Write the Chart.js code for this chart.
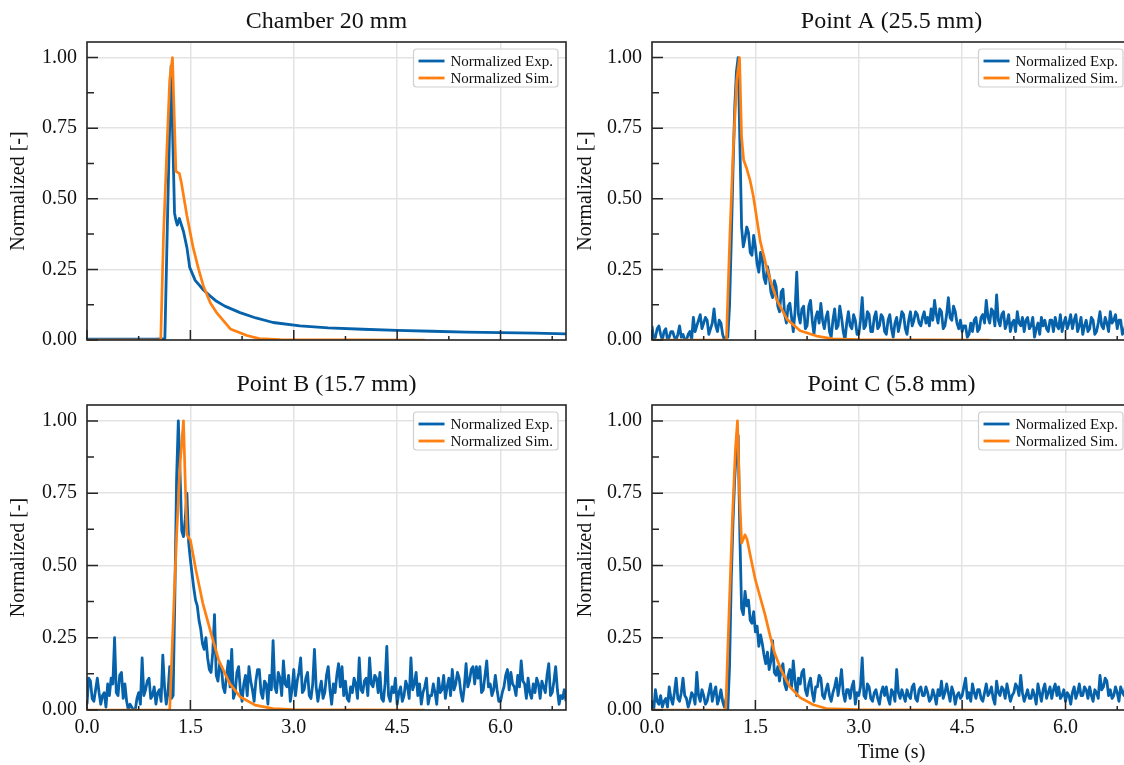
<!DOCTYPE html>
<html><head><meta charset="utf-8">
<script src="https://cdn.jsdelivr.net/npm/chart.js@4.4.1/dist/chart.umd.min.js"></script>
<style>
html,body{margin:0;padding:0;background:#fff;width:1124px;height:765px;overflow:hidden;}
#wrap{position:relative;width:1124px;height:765px;overflow:hidden;background:#fff;}
canvas{position:absolute;}
</style></head><body><div id="wrap">
<canvas id="c0" width="570" height="362" style="left:0px;top:0px"></canvas>
<canvas id="c1" width="564" height="362" style="left:567px;top:0px"></canvas>
<canvas id="c2" width="570" height="403" style="left:0px;top:362px"></canvas>
<canvas id="c3" width="564" height="403" style="left:567px;top:362px"></canvas>
</div>
<script>
// ---------------- DATA ----------------
const panelTitles = ['Chamber 20 mm', 'Point A (25.5 mm)', 'Point B (15.7 mm)', 'Point C (5.8 mm)'];
const legendLabels = ['Normalized Exp.', 'Normalized Sim.'];
const xMajorTicks = [0, 1.5, 3.0, 4.5, 6.0];
const xTickLabels = ['0.0', '1.5', '3.0', '4.5', '6.0'];
const xMinorTicks = [0.75, 2.25, 3.75, 5.25, 6.75];
const yMajorTicks = [0, 0.25, 0.5, 0.75, 1.0];
const yTickLabels = ['0.00', '0.25', '0.50', '0.75', '1.00'];
const yMinorTicks = [0.125, 0.375, 0.625, 0.875];
const yAxisTitle = 'Normalized [-]';
const xAxisTitle = 'Time (s)';

// Chamber 20 mm
const chamberExpT = [0,0.5,1.0,1.13,1.17,1.22,1.23,1.27,1.29,1.31,1.34,1.40,1.45,1.49,1.57,1.69,1.78,1.88,2.0,2.22,2.45,2.70,3.09,3.5,4.0,4.5,5.0,5.5,6.0,6.5,6.95];
const chamberExpV = [0.003,0.003,0.003,0.005,0.45,0.97,0.97,0.45,0.424,0.407,0.43,0.384,0.327,0.257,0.211,0.177,0.157,0.137,0.12,0.097,0.078,0.062,0.05,0.043,0.038,0.034,0.031,0.028,0.026,0.024,0.022];
const chamberSimT = [0,1.07,1.11,1.16,1.20,1.24,1.29,1.34,1.37,1.45,1.54,1.62,1.69,1.79,1.88,2.08,2.32,2.5,2.8,4.9];
const chamberSimV = [0,0,0.37,0.68,0.92,1.0,0.597,0.59,0.556,0.44,0.327,0.25,0.19,0.131,0.097,0.039,0.016,0.005,0.001,0];

// shared sample times of the noisy experimental signals (s)
const tExp = [
0.000,0.025,0.050,0.075,0.100,0.125,0.150,0.175,0.200,0.225,0.250,0.275,0.300,0.325,0.350,0.375,0.400,0.425,0.450,0.475,
0.500,0.525,0.550,0.575,0.600,0.625,0.650,0.675,0.700,0.725,0.750,0.775,0.800,0.825,0.850,0.875,0.900,0.925,0.950,0.975,
1.000,1.025,1.050,1.075,1.100,1.125,1.150,1.175,1.200,1.225,1.250,1.275,1.300,1.325,1.350,1.375,1.400,1.425,1.450,1.475,
1.500,1.525,1.550,1.575,1.600,1.625,1.650,1.675,1.700,1.725,1.750,1.775,1.800,1.825,1.850,1.875,1.900,1.925,1.950,1.975,
2.000,2.025,2.050,2.075,2.100,2.125,2.150,2.175,2.200,2.225,2.250,2.275,2.300,2.325,2.350,2.375,2.400,2.425,2.450,2.475,
2.500,2.525,2.550,2.575,2.600,2.625,2.650,2.675,2.700,2.725,2.750,2.775,2.800,2.825,2.850,2.875,2.900,2.925,2.950,2.975,
3.000,3.025,3.050,3.075,3.100,3.125,3.150,3.175,3.200,3.225,3.250,3.275,3.300,3.325,3.350,3.375,3.400,3.425,3.450,3.475,
3.500,3.525,3.550,3.575,3.600,3.625,3.650,3.675,3.700,3.725,3.750,3.775,3.800,3.825,3.850,3.875,3.900,3.925,3.950,3.975,
4.000,4.025,4.050,4.075,4.100,4.125,4.150,4.175,4.200,4.225,4.250,4.275,4.300,4.325,4.350,4.375,4.400,4.425,4.450,4.475,
4.500,4.525,4.550,4.575,4.600,4.625,4.650,4.675,4.700,4.725,4.750,4.775,4.800,4.825,4.850,4.875,4.900,4.925,4.950,4.975,
5.000,5.025,5.050,5.075,5.100,5.125,5.150,5.175,5.200,5.225,5.250,5.275,5.300,5.325,5.350,5.375,5.400,5.425,5.450,5.475,
5.500,5.525,5.550,5.575,5.600,5.625,5.650,5.675,5.700,5.725,5.750,5.775,5.800,5.825,5.850,5.875,5.900,5.925,5.950,5.975,
6.000,6.025,6.050,6.075,6.100,6.125,6.150,6.175,6.200,6.225,6.250,6.275,6.300,6.325,6.350,6.375,6.400,6.425,6.450,6.475,
6.500,6.525,6.550,6.575,6.600,6.625,6.650,6.675,6.700,6.725,6.750,6.775,6.800,6.825,6.850,6.875,6.900,6.925,6.950,6.975];

// Point A (25.5 mm)
const pointAExp = [
0.05,0.00,0.01,0.04,0.05,0.02,0.00,0.03,0.04,0.00,0.01,0.03,0.03,0.01,0.00,0.02,0.05,0.01,0.02,0.00,
0.00,0.02,0.03,0.00,0.08,0.03,0.05,0.07,0.09,0.04,0.06,0.08,0.07,0.02,0.04,0.06,0.11,0.05,0.03,0.07,
0.06,0.02,0.00,0.01,0.01,0.12,0.35,0.60,0.82,0.95,1.00,0.70,0.40,0.33,0.36,0.40,0.38,0.31,0.30,0.37,
0.33,0.27,0.24,0.31,0.29,0.22,0.20,0.26,0.23,0.17,0.15,0.21,0.19,0.12,0.10,0.17,0.18,0.09,0.06,0.12,
0.13,0.08,0.03,0.10,0.24,0.09,0.06,0.11,0.12,0.04,0.05,0.12,0.14,0.07,0.02,0.08,0.10,0.06,0.13,0.07,
0.04,0.08,0.10,0.03,0.01,0.07,0.11,0.04,0.05,0.12,0.08,0.03,0.00,0.06,0.10,0.05,0.04,0.09,0.07,0.02,
0.02,0.07,0.15,0.04,0.05,0.10,0.09,0.03,0.03,0.08,0.10,0.04,0.05,0.09,0.08,0.03,0.02,0.07,0.09,0.04,
0.01,0.06,0.08,0.03,0.06,0.10,0.09,0.04,0.02,0.07,0.10,0.05,0.07,0.10,0.09,0.06,0.05,0.08,0.10,0.06,
0.08,0.05,0.11,0.07,0.14,0.09,0.06,0.11,0.10,0.04,0.05,0.09,0.15,0.08,0.07,0.12,0.10,0.06,0.04,0.07,
0.03,0.05,0.05,0.01,0.02,0.06,0.03,0.07,0.08,0.03,0.04,0.08,0.09,0.06,0.14,0.08,0.06,0.11,0.10,0.05,
0.16,0.07,0.05,0.09,0.10,0.04,0.06,0.09,0.03,0.06,0.07,0.03,0.10,0.06,0.05,0.08,0.03,0.07,0.08,0.04,
0.05,0.08,0.01,0.04,0.06,0.02,0.08,0.05,0.07,0.04,0.03,0.07,0.07,0.03,0.08,0.05,0.04,0.09,0.03,0.06,
0.08,0.04,0.06,0.09,0.04,0.07,0.09,0.03,0.05,0.08,0.02,0.05,0.07,0.03,0.04,0.08,0.07,0.02,0.03,0.06,
0.10,0.05,0.04,0.08,0.06,0.03,0.10,0.06,0.07,0.09,0.04,0.07,0.07,0.02,0.03,0.06,0.06,0.04,0.05,0.08];
const pointASimT = [0,1.08,1.13,1.18,1.23,1.27,1.30,1.33,1.37,1.42,1.47,1.52,1.57,1.66,1.74,1.81,1.96,2.15,2.39,2.63,3.0,4.9];
const pointASimV = [0,0,0.37,0.68,0.92,1.0,0.717,0.637,0.61,0.568,0.51,0.43,0.35,0.26,0.194,0.142,0.073,0.033,0.014,0.004,0.001,0];

// Point B (15.7 mm)
const pointBExp = [
0.02,0.11,0.10,0.04,0.03,0.07,0.11,0.06,0.02,0.05,0.06,0.01,0.09,0.05,0.11,0.09,0.25,0.06,0.05,0.12,
0.13,0.04,0.09,0.03,0.00,0.02,0.01,0.00,0.00,0.04,0.06,0.02,0.18,0.05,0.07,0.10,0.11,0.04,0.05,0.08,
0.02,0.06,0.07,0.03,0.19,0.08,0.02,0.06,0.15,0.04,0.05,0.40,0.80,1.00,0.82,0.62,0.60,0.66,0.75,0.58,
0.52,0.47,0.42,0.38,0.36,0.31,0.28,0.23,0.21,0.25,0.18,0.14,0.13,0.20,0.33,0.12,0.10,0.16,0.15,0.08,
0.06,0.12,0.17,0.08,0.21,0.04,0.06,0.13,0.15,0.07,0.03,0.09,0.12,0.05,0.15,0.10,0.07,0.03,0.10,0.14,
0.14,0.06,0.04,0.10,0.09,0.02,0.12,0.07,0.24,0.08,0.06,0.13,0.11,0.05,0.17,0.09,0.08,0.12,0.03,0.07,
0.14,0.05,0.10,0.13,0.18,0.06,0.07,0.11,0.13,0.05,0.04,0.09,0.21,0.08,0.03,0.07,0.10,0.04,0.06,0.12,
0.15,0.07,0.02,0.09,0.06,0.12,0.16,0.08,0.15,0.05,0.10,0.04,0.03,0.08,0.06,0.11,0.09,0.04,0.18,0.07,
0.06,0.10,0.11,0.05,0.18,0.09,0.08,0.12,0.11,0.06,0.13,0.04,0.03,0.09,0.22,0.05,0.03,0.08,0.06,0.11,
0.02,0.06,0.08,0.03,0.05,0.10,0.08,0.04,0.18,0.07,0.09,0.13,0.05,0.09,0.02,0.06,0.08,0.11,0.02,0.05,
0.05,0.09,0.06,0.02,0.11,0.06,0.07,0.12,0.04,0.08,0.11,0.05,0.14,0.07,0.09,0.13,0.11,0.06,0.03,0.08,
0.16,0.08,0.10,0.14,0.15,0.09,0.15,0.11,0.15,0.06,0.07,0.12,0.17,0.08,0.09,0.05,0.07,0.12,0.07,0.03,
0.03,0.06,0.08,0.12,0.14,0.07,0.13,0.09,0.08,0.05,0.12,0.08,0.17,0.10,0.09,0.04,0.11,0.06,0.04,0.09,
0.06,0.11,0.09,0.04,0.10,0.08,0.06,0.12,0.16,0.05,0.06,0.10,0.15,0.07,0.02,0.05,0.04,0.07,0.03,0.06];
const pointBSimT = [0,1.20,1.25,1.30,1.35,1.40,1.43,1.45,1.50,1.58,1.68,1.80,1.91,2.07,2.22,2.44,2.7,3.0,4.9];
const pointBSimV = [0,0,0.3,0.6,0.85,1.0,0.75,0.605,0.588,0.484,0.37,0.265,0.173,0.092,0.046,0.017,0.005,0.001,0];

// Point C (5.8 mm)
const pointCExp = [
0.03,0.00,0.07,0.03,0.02,0.05,0.01,0.03,0.04,0.01,0.08,0.04,0.02,0.06,0.11,0.04,0.03,0.06,0.11,0.05,
0.04,0.01,0.03,0.06,0.05,0.02,0.13,0.05,0.03,0.07,0.05,0.02,0.03,0.06,0.09,0.03,0.06,0.08,0.02,0.04,
0.07,0.03,0.01,0.04,0.00,0.15,0.45,0.65,0.80,0.90,0.95,0.60,0.35,0.33,0.41,0.36,0.38,0.31,0.30,0.34,
0.27,0.29,0.22,0.26,0.23,0.19,0.16,0.20,0.14,0.17,0.24,0.13,0.12,0.15,0.10,0.14,0.16,0.09,0.07,0.12,
0.14,0.08,0.17,0.10,0.05,0.11,0.09,0.13,0.14,0.07,0.05,0.09,0.11,0.06,0.03,0.08,0.08,0.12,0.11,0.05,
0.04,0.07,0.09,0.05,0.03,0.06,0.08,0.11,0.05,0.09,0.14,0.06,0.03,0.07,0.07,0.04,0.08,0.10,0.02,0.06,
0.05,0.08,0.18,0.05,0.04,0.09,0.08,0.04,0.03,0.06,0.07,0.04,0.02,0.06,0.08,0.05,0.08,0.04,0.02,0.07,
0.06,0.03,0.14,0.06,0.04,0.07,0.05,0.03,0.07,0.05,0.04,0.08,0.09,0.04,0.03,0.07,0.08,0.05,0.05,0.08,
0.06,0.03,0.04,0.07,0.05,0.02,0.07,0.05,0.10,0.04,0.06,0.09,0.06,0.03,0.08,0.06,0.02,0.05,0.06,0.04,
0.05,0.08,0.11,0.04,0.06,0.03,0.09,0.06,0.04,0.07,0.07,0.04,0.03,0.06,0.09,0.05,0.06,0.08,0.04,0.02,
0.10,0.06,0.05,0.08,0.07,0.04,0.09,0.06,0.03,0.05,0.06,0.09,0.08,0.05,0.12,0.06,0.03,0.05,0.07,0.04,
0.04,0.07,0.05,0.02,0.09,0.06,0.03,0.07,0.09,0.04,0.06,0.08,0.04,0.07,0.09,0.05,0.08,0.04,0.05,0.07,
0.03,0.06,0.05,0.02,0.06,0.08,0.04,0.06,0.09,0.05,0.05,0.08,0.07,0.04,0.08,0.05,0.03,0.07,0.06,0.04,
0.12,0.07,0.08,0.11,0.10,0.05,0.07,0.04,0.05,0.08,0.06,0.03,0.08,0.06,0.05,0.09,0.07,0.04,0.04,0.06];
const pointCSimT = [0,1.07,1.12,1.17,1.21,1.24,1.27,1.30,1.35,1.38,1.43,1.50,1.57,1.64,1.71,1.78,1.88,2.0,2.15,2.34,2.53,3.0,4.9];
const pointCSimV = [0,0,0.35,0.68,0.9,1.0,0.75,0.577,0.606,0.59,0.53,0.45,0.39,0.33,0.26,0.196,0.135,0.08,0.043,0.018,0.005,0.001,0];

// ---------------- STYLE ----------------
const BLUE = '#0562ab';
const ORANGE = '#ff8010';
const FONT = '"Liberation Serif", "Times New Roman", serif';
const TEXT = '#111111';
const AXIS = '#262626';
const GRID = '#e3e3e3';
const X_MAX = 6.95;
const Y_MAX = 1.055;

function pairs(ts, vs) { return vs.map((v, i) => ({x: ts[i], y: v})); }

const framePlugin = {
  id: 'frameTicksLegend',
  afterDraw(chart, args, opts) {
    const ctx = chart.ctx, a = chart.chartArea, xs = chart.scales.x, ys = chart.scales.y;
    ctx.save();
    ctx.strokeStyle = AXIS; ctx.lineWidth = 1.6;
    ctx.strokeRect(a.left, a.top, a.right - a.left, a.bottom - a.top);
    ctx.lineWidth = 1.5;
    ctx.beginPath();
    xMajorTicks.forEach(v => { const p = xs.getPixelForValue(v); ctx.moveTo(p, a.bottom); ctx.lineTo(p, a.bottom - 10); });
    xMinorTicks.forEach(v => { const p = xs.getPixelForValue(v); ctx.moveTo(p, a.bottom); ctx.lineTo(p, a.bottom - 4); });
    yMajorTicks.forEach(v => { const p = ys.getPixelForValue(v); ctx.moveTo(a.left, p); ctx.lineTo(a.left + 11, p); });
    yMinorTicks.forEach(v => { const p = ys.getPixelForValue(v); ctx.moveTo(a.left, p); ctx.lineTo(a.left + 7, p); });
    ctx.stroke();
    ctx.fillStyle = TEXT;
    ctx.font = '24px ' + FONT;
    ctx.textAlign = 'center'; ctx.textBaseline = 'middle';
    ctx.fillText(opts.title, (a.left + a.right) / 2, a.top - 20);
    ctx.font = '15px ' + FONT;
    const ds = chart.data.datasets;
    const tw = Math.max(...ds.map(d => ctx.measureText(d.label).width));
    const pad = 5, handle = 26, gap = 6, rowH = 17;
    const w = pad + handle + gap + tw + pad, h = 38;
    const bx = a.right - 8 - w, by = a.top + 7;
    ctx.beginPath();
    if (ctx.roundRect) ctx.roundRect(bx, by, w, h, 3); else ctx.rect(bx, by, w, h);
    ctx.fillStyle = 'rgba(255,255,255,0.85)'; ctx.fill();
    ctx.strokeStyle = '#cfcfcf'; ctx.lineWidth = 1.2; ctx.stroke();
    ds.forEach((d, i) => {
      const cy = by + 12 + i * rowH;
      ctx.beginPath(); ctx.strokeStyle = d.borderColor; ctx.lineWidth = 2.8;
      ctx.moveTo(bx + pad, cy); ctx.lineTo(bx + pad + handle, cy); ctx.stroke();
      ctx.fillStyle = TEXT; ctx.textAlign = 'left'; ctx.textBaseline = 'middle';
      ctx.fillText(d.label, bx + pad + handle + gap, cy + 1);
    });
    ctx.restore();
  }
};

const panels = [
  {id: 'c0', title: panelTitles[0], expT: chamberExpT, expV: chamberExpV, simT: chamberSimT, simV: chamberSimV, xLabels: false, xTitle: false, yW: 87, xH: 14, pad: {top: 42, right: 4, left: 0, bottom: 0}},
  {id: 'c1', title: panelTitles[1], expT: tExp, expV: pointAExp, simT: pointASimT, simV: pointASimV, xLabels: false, xTitle: false, yW: 85, xH: 14, pad: {top: 42, right: 0, left: 0, bottom: 0}},
  {id: 'c2', title: panelTitles[2], expT: tExp, expV: pointBExp, simT: pointBSimT, simV: pointBSimV, xLabels: true, xTitle: false, yW: 87, xH: 55, pad: {top: 43, right: 4, left: 0, bottom: 0}},
  {id: 'c3', title: panelTitles[3], expT: tExp, expV: pointCExp, simT: pointCSimT, simV: pointCSimV, xLabels: true, xTitle: true, yW: 85, xH: 55, pad: {top: 43, right: 0, left: 0, bottom: 0}}
];

panels.forEach(p => {
  new Chart(document.getElementById(p.id), {
    type: 'line',
    data: {
      datasets: [
        {label: legendLabels[0], data: pairs(p.expT, p.expV), borderColor: BLUE, backgroundColor: BLUE, borderWidth: 2.8, pointRadius: 0, tension: 0, borderJoinStyle: 'round', order: 1},
        {label: legendLabels[1], data: pairs(p.simT, p.simV), borderColor: ORANGE, backgroundColor: ORANGE, borderWidth: 2.7, pointRadius: 0, tension: 0, borderJoinStyle: 'round', order: 0}
      ]
    },
    options: {
      responsive: false, animation: false, devicePixelRatio: 1,
      layout: {padding: p.pad},
      plugins: {legend: {display: false}, tooltip: {enabled: false}, title: {display: false}, frameTicksLegend: {title: p.title}},
      scales: {
        x: {
          type: 'linear', min: 0, max: X_MAX,
          afterBuildTicks: s => { s.ticks = xMajorTicks.map(v => ({value: v})); },
          afterFit: s => { s.height = p.xH; },
          ticks: {display: p.xLabels, autoSkip: false, maxRotation: 0, padding: 6, color: TEXT, font: {family: FONT, size: 20},
                  callback: (v, i) => xTickLabels[i]},
          grid: {color: GRID, lineWidth: 1.5, drawTicks: false},
          border: {display: false},
          title: {display: p.xTitle, text: xAxisTitle, color: TEXT, font: {family: FONT, size: 20}, padding: {top: 0, bottom: 0}}
        },
        y: {
          type: 'linear', min: 0, max: Y_MAX,
          afterBuildTicks: s => { s.ticks = yMajorTicks.map(v => ({value: v})); },
          afterFit: s => { s.width = p.yW; },
          ticks: {padding: 10, color: TEXT, font: {family: FONT, size: 20}, callback: (v, i) => yTickLabels[i]},
          grid: {color: GRID, lineWidth: 1.5, drawTicks: false},
          border: {display: false},
          title: {display: true, text: yAxisTitle, color: TEXT, font: {family: FONT, size: 20}, padding: {top: 7, bottom: 0}}
        }
      }
    },
    plugins: [framePlugin]
  });
});
</script></body></html>
